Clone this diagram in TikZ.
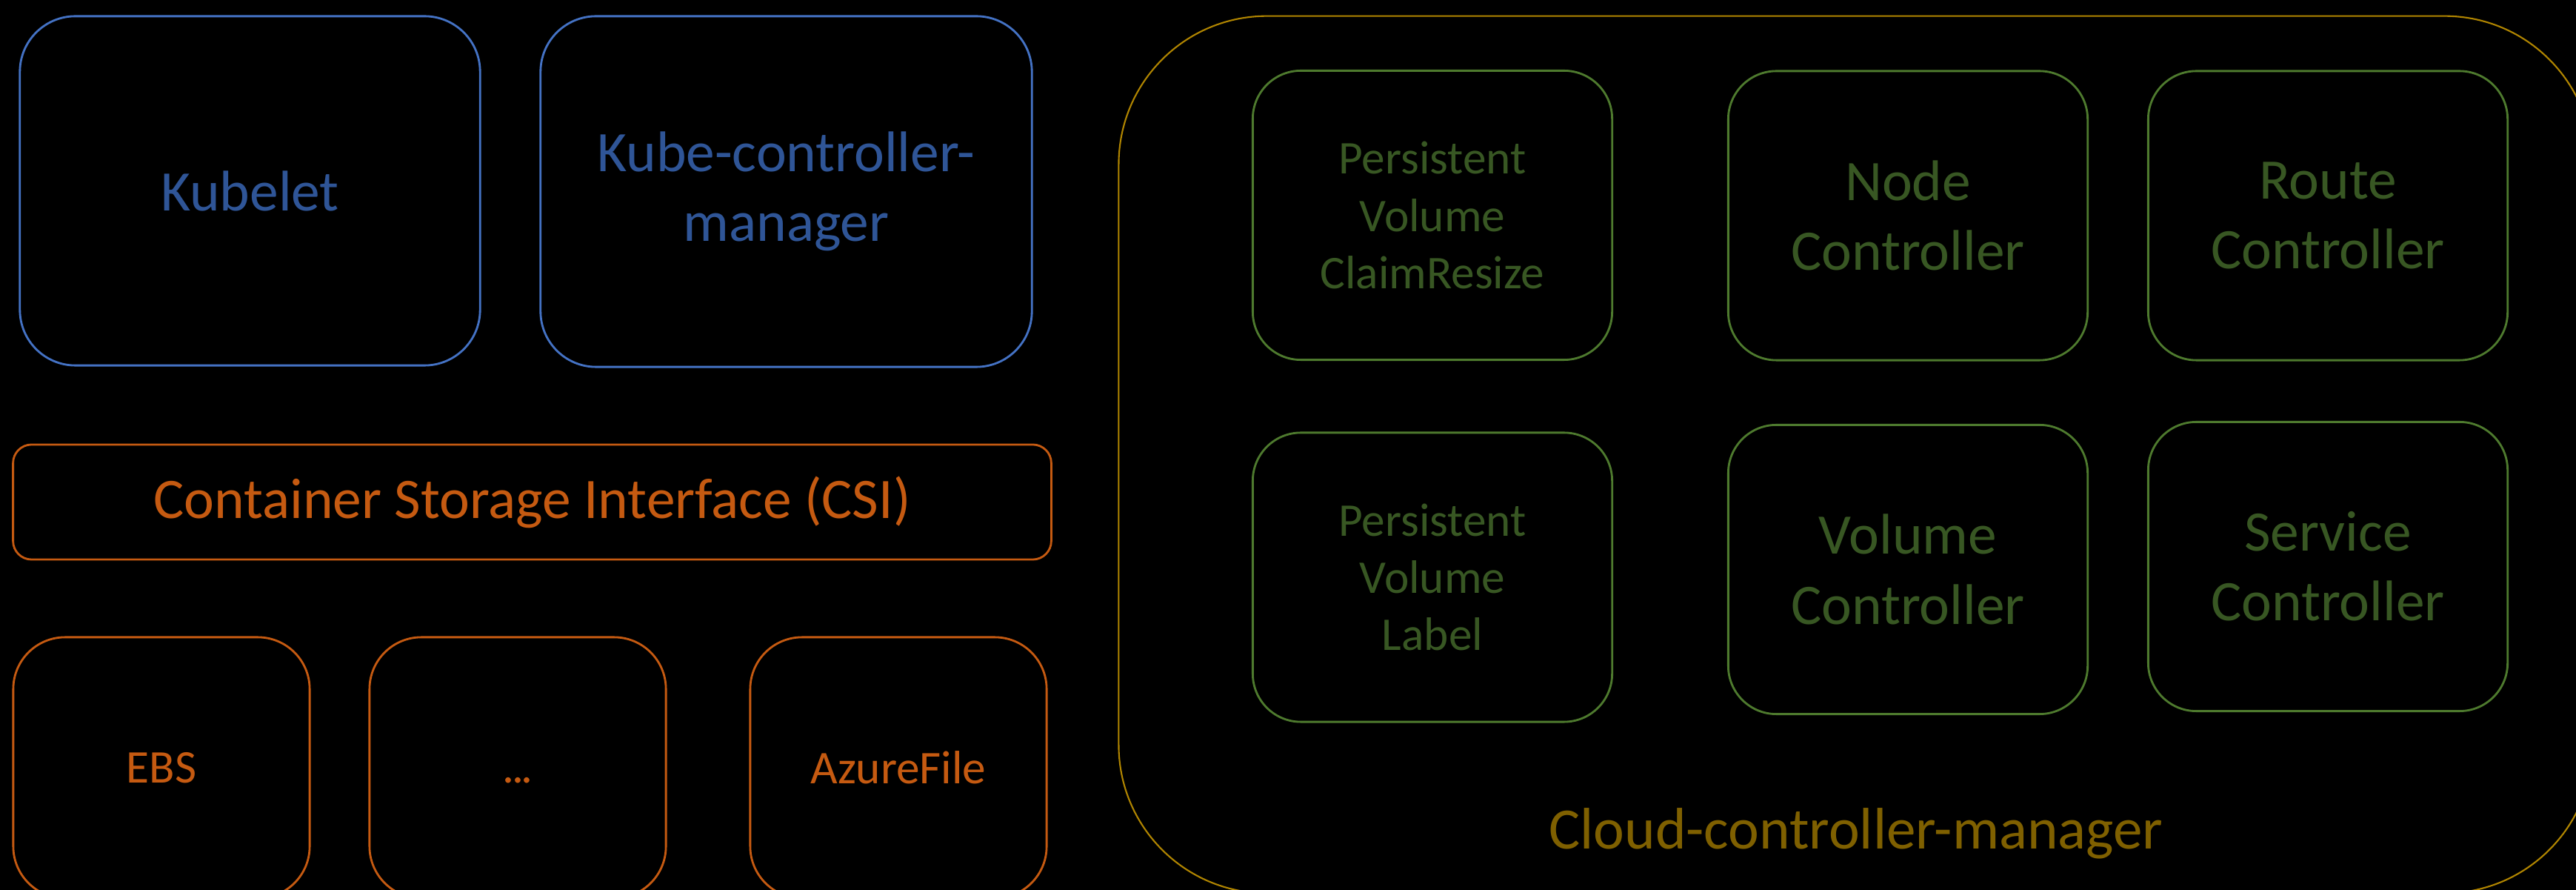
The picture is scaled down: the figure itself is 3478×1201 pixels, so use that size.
\documentclass[tikz,border=0pt]{standalone}
\usepackage{fontspec}
\setmainfont{Carlito}
\definecolor{bluetxt}{HTML}{2F5597}
\definecolor{blueln}{HTML}{4472C4}
\definecolor{orgtxt}{HTML}{C55A11}
\definecolor{orgln}{HTML}{C55A11}
\definecolor{grntxt}{HTML}{385723}
\definecolor{grnln}{HTML}{4E7A2E}
\definecolor{goldtxt}{HTML}{7F6000}
\definecolor{goldln}{HTML}{B08500}
\tikzset{
  basebox/.style={draw, line width=0.8pt, align=center, inner sep=0pt},
  bluebox/.style={basebox, draw=blueln, text=bluetxt, rounded corners=0.75cm,
    font=\fontsize{22}{26.8}\selectfont},
  csibox/.style={basebox, draw=orgln, text=orgtxt, rounded corners=0.25cm,
    font=\fontsize{22}{26.8}\selectfont},
  drvbox/.style={basebox, draw=orgln, text=orgtxt, rounded corners=0.7cm,
    font=\fontsize{18}{22}\selectfont, minimum width=4cm, minimum height=3.52cm},
  ctlbox/.style={basebox, draw=grnln, text=grntxt, rounded corners=0.65cm,
    minimum width=4.85cm, minimum height=3.9cm},
  bigfont/.style={font=\fontsize{22}{26.8}\selectfont},
  smallfont/.style={font=\fontsize{18}{22}\selectfont},
}
\begin{document}
\begin{tikzpicture}[x=0.01cm,y=-0.01cm]
\useasboundingbox (0,0) rectangle (3478,1201);
\clip (0,0) rectangle (3478,1201);
\fill[black] (0,0) rectangle (3478,1201);

% top-left boxes
\node[bluebox, minimum width=6.21cm, minimum height=4.71cm] (kubelet) at (337.5,257.5) {Kubelet};
\node[bluebox, minimum width=6.63cm, minimum height=4.73cm] (kcm) at (1061.5,258.5) {Kube-controller-\\manager};

% CSI
\node[csibox, minimum width=14.01cm, minimum height=1.55cm] (csi) at (718.5,677.5) {Container Storage Interface (CSI)};

% drivers
\node[drvbox] (ebs) at (218,1036) {EBS};
\node[drvbox] (dots) at (699,1036) {\vphantom{EBS}.\kern-0.06em.\kern-0.06em.};
\node[drvbox] (azure) at (1213,1036) {AzureFile};

% cloud controller manager
\node[basebox, draw=goldln, line width=0.6pt, rounded corners=2cm,
  minimum width=19.89cm, minimum height=11.83cm] (ccm) at (2505.5,613.5) {};
\node[text=goldtxt, font=\fontsize{22.5}{27}\selectfont, anchor=base, inner sep=0pt] (ccmlabel) at (2506,1146) {Cloud-controller-manager};

\node[ctlbox, smallfont] (pvcr) at (1934,290.5) {Persistent\\Volume\\ClaimResize};
\node[ctlbox, bigfont] (nodec) at (2576,291) {Node\\Controller};
\node[ctlbox, bigfont] (routec) at (3143,291) {Route\\Controller};
\node[ctlbox, smallfont] (pvl) at (1934,779) {Persistent\\Volume\\Label};
\node[ctlbox, bigfont] (volc) at (2576,768.5) {Volume\\Controller};
\node[ctlbox, bigfont] (svcc) at (3143,764.5) {Service\\Controller};
\end{tikzpicture}
\end{document}
